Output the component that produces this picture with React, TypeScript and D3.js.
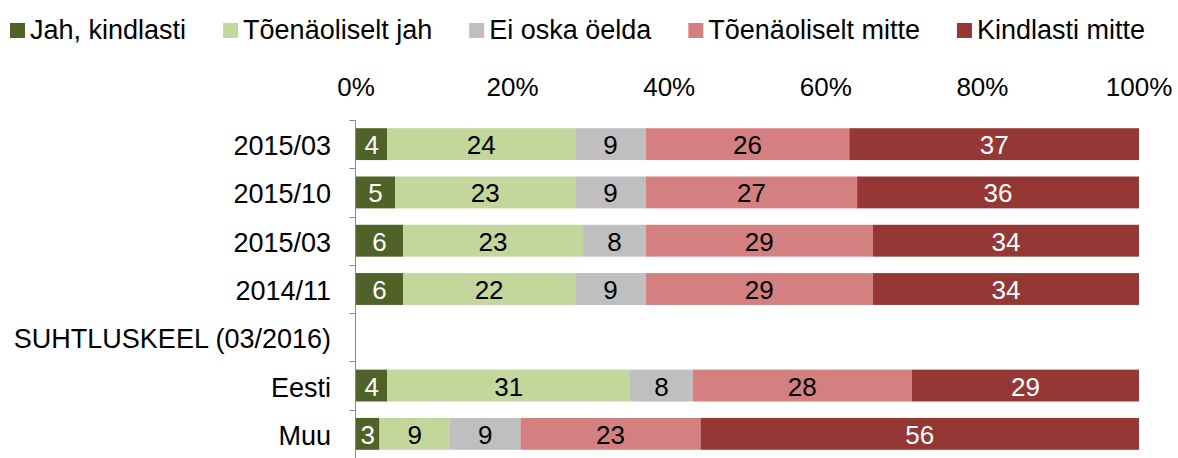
import React, { useEffect, useRef } from 'react';
import * as d3 from 'd3';

const categories = [
  '2015/03',
  '2015/10',
  '2015/03',
  '2014/11',
  'SUHTLUSKEEL (03/2016)',
  'Eesti',
  'Muu',
];

const seriesNames = [
  'Jah, kindlasti',
  'Tõenäoliselt jah',
  'Ei oska öelda',
  'Tõenäoliselt mitte',
  'Kindlasti mitte',
];

const jahKindlasti = [4, 5, 6, 6, null, 4, 3];
const toenaoliseltJah = [24, 23, 23, 22, null, 31, 9];
const eiOska = [9, 9, 8, 9, null, 8, 9];
const toenaoliseltMitte = [26, 27, 29, 29, null, 28, 23];
const kindlastiMitte = [37, 36, 34, 34, null, 29, 56];

const xTicks = [0, 20, 40, 60, 80, 100];

const colors = ['#4F6228', '#C3D69B', '#BFBFBF', '#D48080', '#953735'];
const labelColors = ['#fff', '#000', '#000', '#000', '#fff'];

const FONT = '"Liberation Sans", Arial, sans-serif';

const App = () => {
  const svgRef = useRef<SVGSVGElement>(null);

  useEffect(() => {
    const width = 1178;
    const height = 458;
    const margin = { top: 120, right: 39, bottom: 0, left: 356 };

    const svg = d3.select(svgRef.current);
    svg.selectAll('*').remove();
    svg.attr('width', width).attr('height', height);

    const series = [jahKindlasti, toenaoliseltJah, eiOska, toenaoliseltMitte, kindlastiMitte];

    const x = d3.scaleLinear()
      .domain([0, 100])
      .range([margin.left, width - margin.right]);

    const y = d3.scaleBand<number>()
      .domain(d3.range(categories.length))
      .range([margin.top, height - margin.bottom])
      .paddingInner(0.34)
      .paddingOuter(0.17);

    const step = y.step();

    // legend
    const legend = svg.append('g');
    let lx = 10;
    seriesNames.forEach((name, i) => {
      legend.append('rect')
        .attr('x', lx)
        .attr('y', 23)
        .attr('width', 15)
        .attr('height', 15)
        .attr('fill', colors[i]);
      const t = legend.append('text')
        .attr('x', lx + 20)
        .attr('y', 39)
        .attr('font-family', FONT)
        .attr('font-size', 27)
        .attr('fill', '#000')
        .text(name);
      const w = (t.node() as SVGTextElement).getComputedTextLength();
      lx += 20 + w + 37;
    });

    // top percentage labels
    svg.append('g')
      .selectAll('text')
      .data(xTicks)
      .enter()
      .append('text')
      .attr('x', d => x(d))
      .attr('y', 96)
      .attr('text-anchor', 'middle')
      .attr('font-family', FONT)
      .attr('font-size', 26)
      .attr('fill', '#000')
      .text(d => d + '%');

    // stacked bars
    categories.forEach((cat, ci) => {
      let acc = 0;
      series.forEach((s, si) => {
        const v = s[ci];
        if (v == null) return;
        const x0 = x(acc);
        const x1 = x(acc + v);
        acc += v;
        svg.append('rect')
          .attr('x', x0)
          .attr('y', y(ci)!)
          .attr('width', x1 - x0)
          .attr('height', y.bandwidth())
          .attr('fill', colors[si]);
        svg.append('text')
          .attr('x', (x0 + x1) / 2)
          .attr('y', y(ci)! + y.bandwidth() / 2 + 10)
          .attr('text-anchor', 'middle')
          .attr('font-family', FONT)
          .attr('font-size', 26)
          .attr('fill', labelColors[si])
          .text(v);
      });
    });

    // category labels
    svg.append('g')
      .selectAll('text')
      .data(categories)
      .enter()
      .append('text')
      .attr('x', margin.left - 25)
      .attr('y', (d, i) => y(i)! + y.bandwidth() / 2 + 11)
      .attr('text-anchor', 'end')
      .attr('font-family', FONT)
      .attr('font-size', 27)
      .attr('fill', '#000')
      .text(d => d);

    // left axis with ticks between categories
    const axisX = margin.left - 0.5;
    svg.append('line')
      .attr('x1', axisX)
      .attr('x2', axisX)
      .attr('y1', margin.top)
      .attr('y2', height)
      .attr('stroke', '#898989')
      .attr('stroke-width', 1);

    svg.append('g')
      .selectAll('line')
      .data(d3.range(categories.length + 1))
      .enter()
      .append('line')
      .attr('x1', axisX - 6)
      .attr('x2', axisX)
      .attr('y1', i => Math.round(margin.top + i * step) + 0.5)
      .attr('y2', i => Math.round(margin.top + i * step) + 0.5)
      .attr('stroke', '#898989')
      .attr('stroke-width', 1);
  }, []);

  return (
    <svg
      ref={svgRef}
      style={{ position: 'absolute', left: 0, top: 0, display: 'block', background: '#fff' }}
    ></svg>
  );
};

export default App;
